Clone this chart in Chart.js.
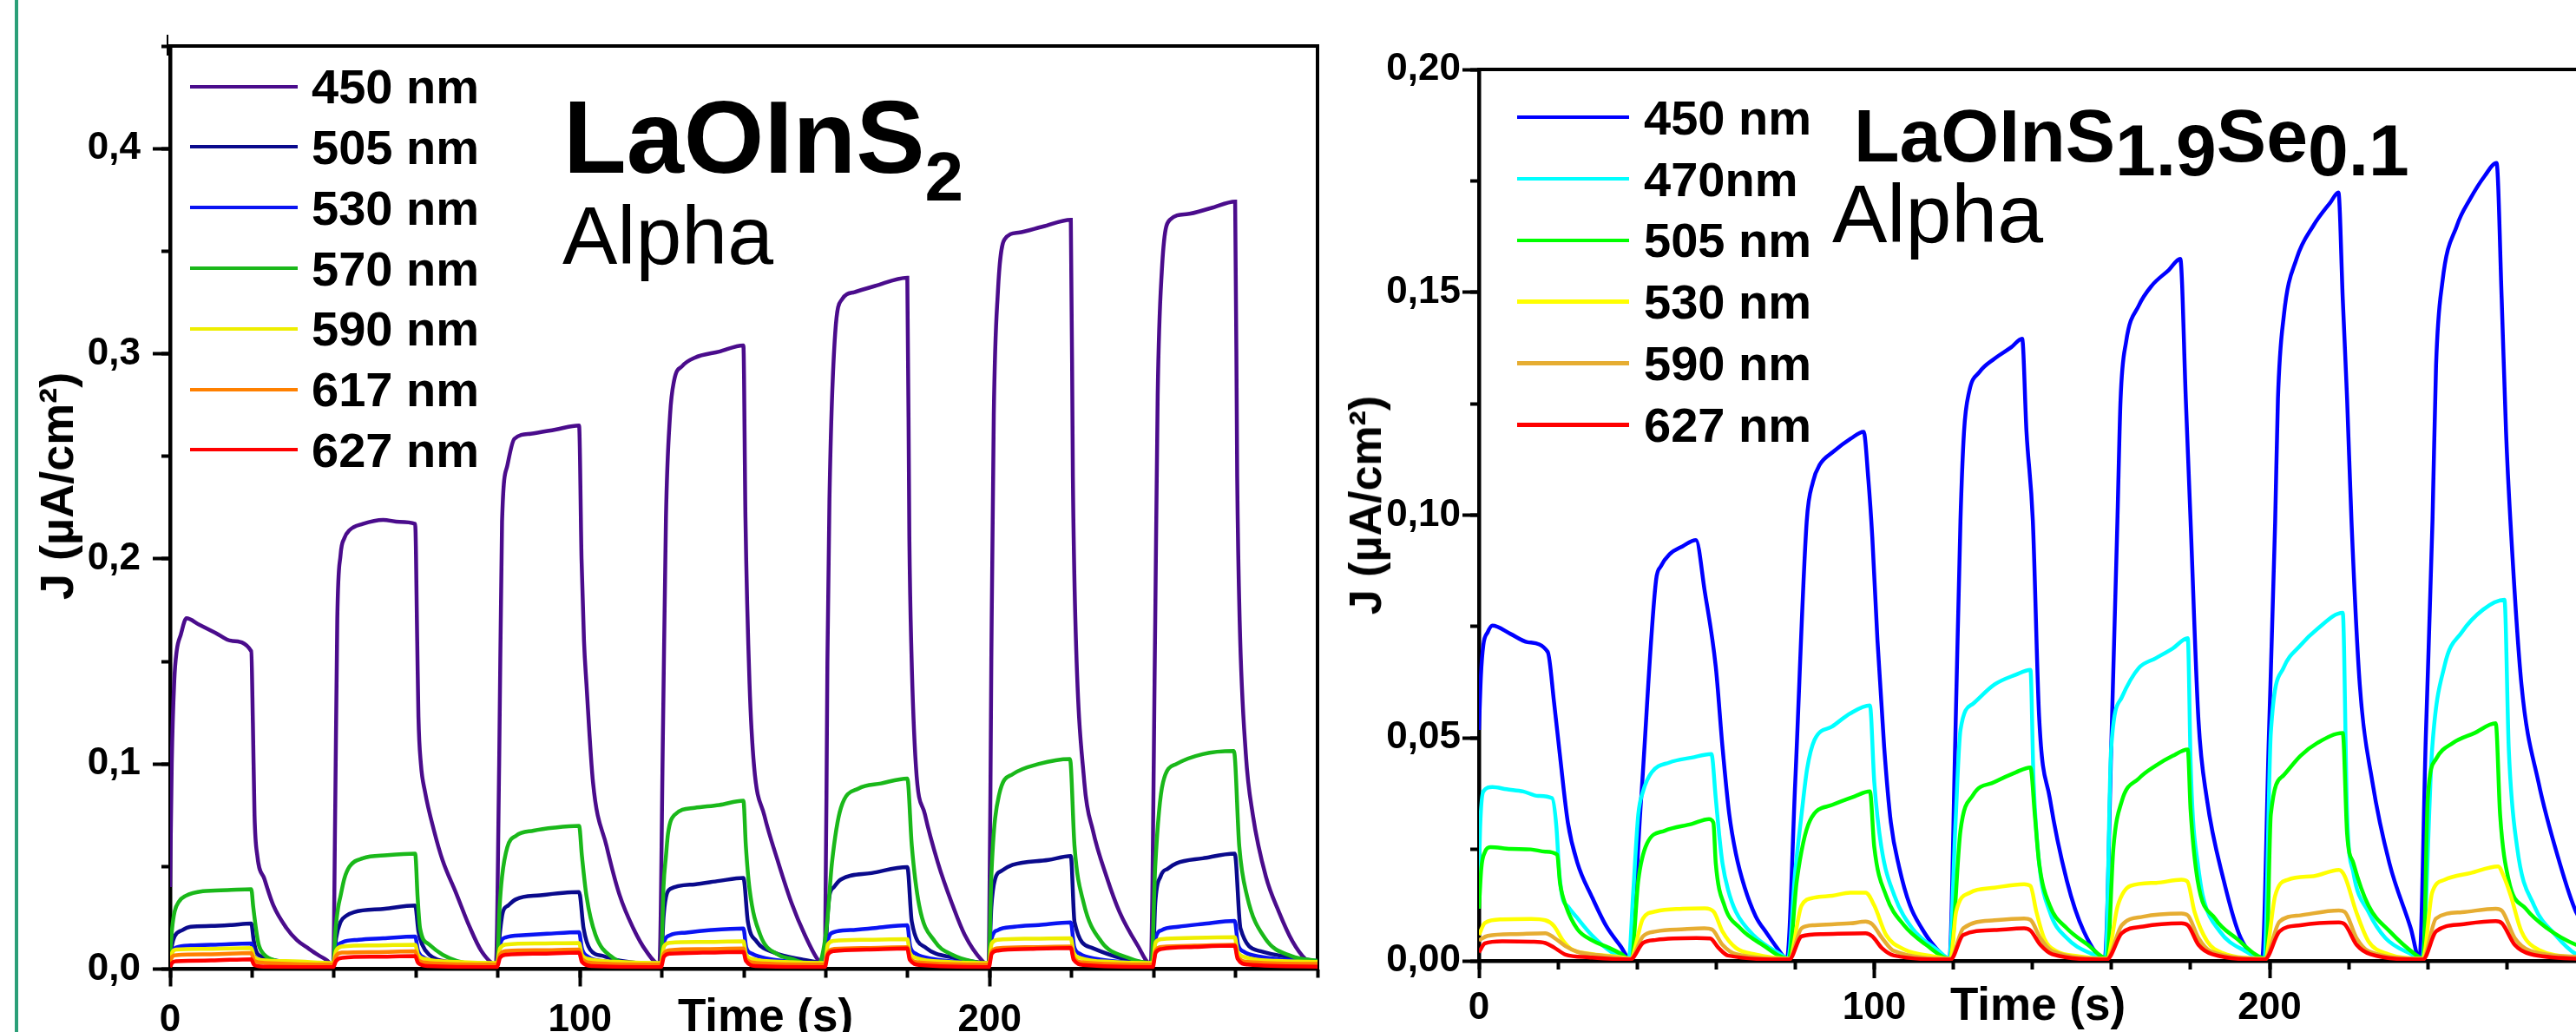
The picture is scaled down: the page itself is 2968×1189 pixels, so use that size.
<!DOCTYPE html>
<html>
<head>
<meta charset="utf-8">
<script src="https://cdn.jsdelivr.net/npm/chart.js@4.4.1/dist/chart.umd.min.js"></script>
<style>
html,body{margin:0;padding:0;background:#fff;width:2968px;height:1189px;overflow:hidden;position:relative;font-family:"Liberation Sans",Arial,sans-serif;}
canvas{position:absolute;top:0;}
.t{position:absolute;white-space:nowrap;line-height:1;color:#000;font-family:"Liberation Sans",Arial,sans-serif;}
.b{font-weight:bold;}
.sub1{font-size:80px;position:relative;top:32px;}
.sub2{font-size:84px;position:relative;top:16px;}
</style>
</head>
<body>
<div style="position:absolute;left:17px;top:0;width:4px;height:1189px;background:#2b9f78"></div>
<div style="position:absolute;left:192px;top:40px;width:2px;height:24px;background:#000"></div>
<canvas id="cL" width="1560" height="1230" style="left:0px"></canvas>
<canvas id="cR" width="1460" height="1230" style="left:1540px"></canvas>

<div class="t b" style="left:649px;top:98px;font-size:119px">LaOInS<span class="sub1">2</span></div>
<div class="t" style="left:648px;top:224px;font-size:95px">Alpha</div>
<div class="t b" style="left:2136px;top:113px;font-size:86px">LaOInS<span class="sub2">1.9</span>Se<span class="sub2">0.1</span></div>
<div class="t" style="left:2111px;top:199px;font-size:95px">Alpha</div>

<div class="t b" style="left:65px;top:560px;font-size:54px;transform:translate(-50%,-50%) rotate(-90deg)">J (µA/cm²)</div>
<div class="t b" style="left:1573px;top:582px;font-size:52px;transform:translate(-50%,-50%) rotate(-90deg)">J (µA/cm²)</div>
<div class="t b" style="left:882px;top:1143px;font-size:53px;transform:translateX(-50%)">Time (s)</div>
<div class="t b" style="left:2348px;top:1130px;font-size:53px;transform:translateX(-50%)">Time (s)</div>

<script>
// ---------- shared axis values ----------
const timeTicks = [0, 100, 200];
const timeTickLabels = ['0', '100', '200'];
const timeMinorTicks = [0, 20, 40, 60, 80, 100, 120, 140, 160, 180, 200, 220, 240, 260, 280];

// ---------- left panel (LaOInS2) ----------
const leftLabels = ['450 nm', '505 nm', '530 nm', '570 nm', '590 nm', '617 nm', '627 nm'];
const leftColors = ['#4a0c8c', '#0a0a8c', '#0a14f2', '#1ab81a', '#eeee00', '#ff8000', '#ff0000'];
const leftYTicks = [0, 0.1, 0.2, 0.3, 0.4];
const leftYTickLabels = ['0,0', '0,1', '0,2', '0,3', '0,4'];
const leftYMinorTicks = [0, 0.05, 0.1, 0.15, 0.2, 0.25, 0.3, 0.35, 0.4, 0.45];

const L450 = [[0,0.040],[0.4,0.10],[1,0.140],[1.6,0.155],[2.6,0.163],[4,0.171],[7,0.168],[11,0.164],[15,0.160],[19.8,0.155],
 [20.2,0.120],[20.6,0.075],[21.3,0.055],[23,0.044],[25.2,0.031],[28.4,0.020],[31,0.014],[33.8,0.010],[36,0.007],[38.1,0.0045],[39.8,0.002],
 [40.3,0.080],[40.8,0.171],[41.6,0.202],[42.5,0.210],[43.8,0.214],[47,0.217],[52,0.219],[56,0.218],[59.8,0.217],
 [60.3,0.160],[60.6,0.123],[61.2,0.100],[62.2,0.0865],[64.4,0.0675],[66.5,0.053],[69.8,0.037],[73,0.021],[76,0.0087],[79.5,0.0024],
 [80.3,0.100],[81,0.218],[82.3,0.2455],[84,0.2585],[88,0.261],[94,0.263],[99.8,0.265],
 [100.4,0.200],[101,0.160],[101.6,0.139],[103.2,0.091],[106.5,0.060],[109.7,0.036],[113,0.020],[116.2,0.0087],[119.4,0.0024],
 [120.3,0.120],[121,0.220],[122,0.270],[123,0.287],[125,0.294],[128,0.298],[134,0.301],[139.9,0.304],
 [140.4,0.220],[141.4,0.139],[142.5,0.099],[145,0.075],[148.4,0.052],[151.6,0.0325],[154.9,0.0166],[158.1,0.0045],[159.8,0.002],
 [160.4,0.150],[160.9,0.229],[162.3,0.310],[164,0.3266],[167,0.330],[172,0.333],[179.9,0.337],
 [180.4,0.210],[180.9,0.155],[182,0.099],[184.2,0.0754],[187.4,0.0516],[190.7,0.0325],[193.9,0.0167],[198.2,0.004],[199.8,0.002],
 [200.4,0.150],[201,0.270],[202,0.330],[203.6,0.3556],[207,0.359],[213,0.362],[219.8,0.3653],
 [220.3,0.240],[220.9,0.171],[223.1,0.091],[225.2,0.0675],[228.5,0.0452],[231.7,0.0278],[236,0.0119],[239.3,0.0024],
 [240.4,0.170],[241,0.280],[242,0.340],[244,0.3653],[248,0.368],[254,0.371],[259.9,0.3742],
 [260.4,0.240],[261,0.170],[262.5,0.105],[264.2,0.0754],[267.4,0.0451],[270.6,0.0278],[273.9,0.0135],[277.1,0.0048],[280,0.002]];

const L505 = [[0,0.004],[0.5,0.012],[1.1,0.016],[3,0.019],[5,0.0206],[10,0.021],[15,0.0215],[19.8,0.0222],
 [20.4,0.014],[21,0.0087],[22.5,0.006],[24.3,0.0048],[30,0.003],[39.8,0.0022],
 [40.5,0.015],[41.6,0.023],[43,0.026],[44.9,0.0278],[52.4,0.0294],[59.8,0.031],
 [60.6,0.0183],[61.5,0.012],[63.2,0.007],[68,0.0035],[79.8,0.0022],
 [80.5,0.018],[81.2,0.0278],[82.5,0.031],[84.4,0.034],[90.3,0.036],[99.8,0.0376],
 [100.9,0.0198],[102.5,0.0095],[105.8,0.0063],[110,0.004],[119.8,0.0025],
 [120.4,0.025],[121,0.035],[122,0.039],[128,0.0413],[134,0.043],[139.9,0.0444],
 [141,0.023],[143.1,0.0135],[147.5,0.008],[154,0.0048],[159.8,0.003],
 [160.4,0.025],[160.9,0.0357],[162,0.040],[163.7,0.0437],[171.2,0.0468],[179.9,0.0497],
 [181,0.023],[184.5,0.0103],[191,0.0056],[199.8,0.003],
 [200.4,0.030],[201.3,0.0437],[203,0.048],[205.6,0.0508],[214.3,0.0532],[219.8,0.0551],
 [220.7,0.023],[225,0.0103],[231.6,0.0056],[239.8,0.003],
 [240.4,0.032],[241.7,0.0452],[243.5,0.049],[245.6,0.0516],[252,0.054],[259.8,0.0563],
 [261.2,0.0198],[266.1,0.0087],[273.7,0.0056],[280,0.004]];

const L530 = [[0,0.003],[0.5,0.008],[1.5,0.0105],[5,0.0115],[12,0.012],[19.8,0.0125],
 [20.4,0.007],[21.5,0.0045],[25,0.0032],[32,0.0025],[39.8,0.002],
 [40.5,0.010],[42,0.013],[46,0.0143],[52,0.015],[59.8,0.0159],
 [60.5,0.009],[62,0.0055],[66,0.0035],[72,0.0025],[79.8,0.002],
 [80.5,0.012],[82,0.0155],[86,0.0165],[92,0.0172],[99.8,0.018],
 [100.5,0.010],[102,0.006],[106,0.0038],[112,0.0028],[119.8,0.0022],
 [120.5,0.013],[122,0.0165],[126,0.0178],[132,0.019],[139.9,0.0198],
 [140.6,0.0105],[142,0.0075],[146,0.005],[152,0.0035],[159.8,0.0025],
 [160.5,0.014],[162,0.018],[166,0.019],[172,0.020],[179.9,0.0214],
 [180.6,0.011],[182,0.0075],[186,0.005],[192,0.0035],[199.8,0.0025],
 [200.5,0.015],[202,0.019],[206,0.0206],[212,0.0215],[219.8,0.0227],
 [220.6,0.011],[222,0.0075],[226,0.005],[232,0.0035],[239.8,0.0025],
 [240.5,0.015],[242,0.019],[246,0.0206],[252,0.022],[259.8,0.0235],
 [260.6,0.012],[262,0.0085],[266,0.006],[272,0.0045],[280,0.0035]];

const L570 = [[0,0.007],[0.5,0.020],[1.1,0.028],[2.2,0.033],[3.8,0.0357],[8,0.038],[14,0.0385],[19.8,0.0389],
 [20.3,0.030],[21,0.019],[21.6,0.012],[23,0.007],[26,0.004],[30,0.003],[39.8,0.0015],
 [40.4,0.020],[41,0.030],[41.6,0.0357],[42.5,0.044],[43.8,0.050],[47,0.054],[53,0.0555],[59.8,0.0563],
 [60.4,0.035],[61,0.0198],[63.2,0.012],[66.5,0.007],[70,0.004],[75,0.002],[79.8,0.0015],
 [80.4,0.030],[81,0.045],[82.3,0.0595],[84.4,0.065],[88.7,0.0675],[94,0.069],[99.8,0.0698],
 [100.5,0.055],[101.6,0.0357],[103.8,0.0167],[108,0.0056],[112.3,0.0024],[119.8,0.0015],
 [120.4,0.040],[121,0.055],[121.5,0.066],[123,0.075],[128,0.0786],[134,0.080],[139.9,0.0821],
 [140.5,0.060],[141.4,0.039],[144,0.0167],[148.4,0.007],[151.6,0.005],[158,0.0015],
 [160.2,0.020],[161.5,0.0516],[163.7,0.0786],[168,0.088],[173.5,0.0905],[179.9,0.0929],
 [181,0.060],[182.8,0.031],[186.6,0.0135],[190.9,0.007],[197.4,0.003],[199.8,0.002],
 [200.4,0.045],[202.3,0.085],[205.6,0.095],[212,0.100],[219.6,0.1024],
 [220.7,0.060],[222.9,0.0325],[227.2,0.0135],[233.7,0.0056],[239.5,0.003],
 [240.4,0.050],[242.3,0.091],[245.6,0.100],[252,0.1048],[259.6,0.1063],
 [260.9,0.060],[262.8,0.0357],[267.2,0.015],[273.7,0.0063],[280,0.004]];

const L590 = [[0,0.004],[0.5,0.008],[1.5,0.0095],[8,0.0098],[19.8,0.0103],
 [20.5,0.006],[22,0.0045],[30,0.0038],[39.8,0.003],
 [40.5,0.009],[42,0.011],[50,0.0115],[59.8,0.0119],
 [60.5,0.007],[62,0.005],[70,0.0035],[79.8,0.003],
 [80.5,0.010],[82,0.012],[90,0.0125],[99.8,0.0127],
 [100.5,0.007],[102,0.005],[110,0.0035],[119.8,0.003],
 [120.5,0.011],[122,0.0128],[130,0.0132],[139.9,0.0135],
 [140.5,0.0075],[142,0.005],[150,0.0035],[159.8,0.003],
 [160.5,0.012],[162,0.0138],[170,0.0143],[179.9,0.0146],
 [180.5,0.008],[182,0.0055],[190,0.0035],[199.8,0.003],
 [200.5,0.0125],[202,0.0143],[210,0.0148],[219.8,0.015],
 [220.5,0.008],[222,0.0055],[230,0.0035],[239.8,0.003],
 [240.5,0.013],[242,0.0146],[250,0.0152],[259.8,0.0155],
 [260.5,0.0085],[262,0.006],[270,0.004],[280,0.0035]];

const L617 = [[0,0.003],[0.5,0.006],[1.5,0.0068],[10,0.0072],[19.8,0.0078],
 [20.5,0.004],[23,0.003],[39.8,0.0022],
 [40.5,0.0065],[42,0.008],[50,0.0083],[59.8,0.0087],
 [60.5,0.0045],[63,0.003],[79.8,0.0022],
 [80.5,0.007],[82,0.0088],[90,0.0092],[99.8,0.0095],
 [100.5,0.005],[103,0.003],[119.8,0.0022],
 [120.5,0.0075],[122,0.0092],[130,0.0097],[139.9,0.010],
 [140.5,0.005],[143,0.003],[159.8,0.0022],
 [160.5,0.008],[162,0.0098],[170,0.0103],[179.9,0.0107],
 [180.5,0.0055],[183,0.0032],[199.8,0.0022],
 [200.5,0.0085],[202,0.0102],[210,0.0107],[219.8,0.011],
 [220.5,0.0055],[223,0.0032],[239.8,0.0022],
 [240.5,0.009],[242,0.0108],[250,0.0114],[259.8,0.0119],
 [260.5,0.006],[263,0.0035],[280,0.0025]];

const L627 = [[0,0.001],[0.5,0.003],[1.5,0.0038],[10,0.0042],[19.8,0.0048],
 [20.5,0.002],[23,0.0012],[39.8,0.001],
 [40.5,0.004],[42,0.0055],[50,0.006],[59.8,0.0063],
 [60.5,0.003],[63,0.0015],[79.8,0.001],
 [80.5,0.0055],[82,0.007],[90,0.0075],[99.8,0.008],
 [100.5,0.0035],[103,0.0015],[119.8,0.001],
 [120.5,0.006],[122,0.0075],[130,0.008],[139.9,0.0084],
 [140.5,0.004],[143,0.0015],[159.8,0.001],
 [160.5,0.007],[162,0.0088],[170,0.0095],[179.9,0.010],
 [180.5,0.0045],[183,0.002],[199.8,0.001],
 [200.5,0.0075],[202,0.009],[210,0.0098],[219.8,0.0103],
 [220.5,0.0045],[223,0.002],[239.8,0.001],
 [240.5,0.008],[242,0.0098],[250,0.0108],[259.8,0.0114],
 [260.5,0.005],[263,0.0022],[280,0.0012]];

// ---------- right panel (LaOInS1.9Se0.1) ----------
const rightLabels = ['450 nm', '470nm', '505 nm', '530 nm', '590 nm', '627 nm'];
const rightColors = ['#0000ff', '#00ffff', '#00ff00', '#ffff00', '#e6ad32', '#ff0000'];
const rightYTicks = [0, 0.05, 0.1, 0.15, 0.2];
const rightYTickLabels = ['0,00', '0,05', '0,10', '0,15', '0,20'];
const rightYMinorTicks = [0, 0.025, 0.05, 0.075, 0.1, 0.125, 0.15, 0.175, 0.2];

const R450 = [[0,0.0518],[0.5,0.064],[1.1,0.0708],[2.2,0.0737],[3.4,0.0752],[7.9,0.0734],[12.3,0.0715],[17.4,0.0693],
 [19,0.058],[20.5,0.046],[22.5,0.031],[24.9,0.022],[28.6,0.0143],[32.2,0.0078],[35.9,0.0032],[38.1,0.0005],
 [41,0.036],[44.8,0.0854],[46,0.0885],[48.2,0.0912],[51.5,0.093],[54.9,0.0944],
 [57.1,0.083],[59.9,0.066],[61.6,0.048],[63.3,0.033],[65,0.024],[67.2,0.0165],[70,0.010],[72.8,0.0062],[75.5,0.0028],[77.9,0.0005],
 [80,0.04],[82.9,0.0985],[84.5,0.1075],[86.2,0.1113],[89.6,0.1142],[94.1,0.1172],[97.3,0.1187],
 [98.5,0.108],[99.5,0.095],[100.8,0.072],[102.5,0.048],[104.2,0.031],[106.3,0.021],[109,0.0125],[112,0.0073],[115,0.0035],[119,0.0005],
 [120.5,0.05],[121.8,0.0988],[122.7,0.1187],[124,0.1277],[126.6,0.1321],[130.4,0.1351],[134.7,0.1377],[137.4,0.1396],
 [138.5,0.1187],[140.1,0.0988],[141.7,0.0547],[144.4,0.0365],[148.7,0.018],[153,0.0066],[158.3,0.0005],
 [160,0.05],[161.5,0.0988],[162.3,0.126],[163.7,0.1389],[166.9,0.147],[170.2,0.1515],[174.5,0.155],[177.4,0.1575],
 [178.8,0.126],[180,0.0988],[182,0.054],[184.1,0.0365],[188.4,0.018],[192.7,0.0051],[198.1,0.0005],
 [199.8,0.05],[201.4,0.0985],[202.1,0.126],[203.6,0.1448],[206.8,0.1575],[211.1,0.165],[215.4,0.1702],[217.4,0.1724],
 [218.5,0.1485],[219.6,0.126],[220.7,0.0988],[222.8,0.062],[226,0.0401],[230.3,0.0219],[235.7,0.0073],[237.9,0.0005],
 [239.5,0.05],[241.2,0.0988],[242.1,0.1336],[243.7,0.1523],[247.4,0.165],[250.7,0.1709],[254.4,0.1761],[257.4,0.179],
 [258.7,0.1485],[259.8,0.1187],[260.9,0.0988],[263.7,0.062],[268,0.0401],[273.4,0.0219],[277.5,0.011],[280,0.0075]];

const R470 = [[0,0.0195],[0.3,0.03],[1.1,0.038],[3.4,0.039],[7,0.0385],[11.2,0.038],[15,0.037],[18.5,0.0365],
 [19.6,0.03],[20.3,0.02],[21.1,0.0143],[22.5,0.0122],[24.7,0.0098],[28.4,0.0059],[33.5,0.002],[37.9,0.0005],
 [39,0.015],[40.3,0.0328],[41.5,0.038],[43.7,0.0423],[48.2,0.0445],[53.8,0.0456],[58.8,0.0464],
 [59.9,0.0365],[60.8,0.028],[61.6,0.0219],[63,0.016],[65,0.011],[69.4,0.0058],[76.2,0.0015],[78.2,0.0005],
 [80,0.02],[81.6,0.0328],[83,0.043],[84.9,0.0496],[89.4,0.0526],[93.9,0.0555],[98.9,0.0573],
 [100,0.0401],[101.8,0.0255],[105.1,0.0146],[109.6,0.0073],[116.3,0.0022],[119,0.0005],
 [120.5,0.03],[121.8,0.0518],[125,0.0577],[130.4,0.062],[135.8,0.0642],[139.5,0.0653],
 [140.3,0.0401],[141.7,0.0219],[144.4,0.011],[148.7,0.0051],[155.1,0.0015],[158.5,0.0005],
 [159.9,0.0474],[162.6,0.0591],[166.9,0.0657],[171.2,0.0679],[175.5,0.0701],[179.3,0.0724],
 [180,0.045],[180.6,0.032],[181.8,0.022],[183.1,0.0146],[187.4,0.0066],[193.8,0.0022],[198.7,0.0005],
 [200.3,0.0511],[203.5,0.0657],[207.8,0.0708],[212.1,0.0745],[218.5,0.0781],
 [219.6,0.0328],[221.2,0.0197],[225,0.011],[229.3,0.0051],[235.8,0.0015],[238.6,0.0005],
 [241.1,0.0474],[244.3,0.0664],[248.6,0.0737],[254,0.0788],[259.4,0.081],
 [260.5,0.0474],[262.6,0.0255],[266.9,0.0124],[272.3,0.0058],[277.5,0.0015],[280,0.001]];

const R505 = [[0,0.0117],[0.6,0.0208],[1.5,0.0244],[2.9,0.0255],[8,0.0251],[13.1,0.025],[16.8,0.0245],[19.8,0.0238],
 [20.5,0.0175],[22,0.0123],[24.9,0.0071],[28.6,0.0046],[32.2,0.0032],[35.9,0.0016],[37.9,0.0005],
 [38.6,0.0006],[40.3,0.018],[42.5,0.0263],[47,0.0292],[53.8,0.0307],[58.2,0.0318],[59.3,0.031],
 [59.9,0.0219],[62.1,0.0124],[66.1,0.0073],[71.7,0.0036],[78.4,0.0005],
 [80.4,0.018],[83.7,0.0314],[89.4,0.035],[95,0.0369],[98.9,0.038],
 [100,0.0255],[103,0.0146],[107.5,0.008],[113.1,0.0036],[119.2,0.0005],
 [121.8,0.0292],[125,0.0372],[130.4,0.0401],[135.8,0.0423],[139.5,0.0434],
 [140.6,0.0328],[141.7,0.0219],[144.4,0.0124],[148.7,0.0073],[154,0.0036],[158.9,0.0005],
 [160.5,0.0255],[162.6,0.0358],[166.9,0.0409],[171.2,0.0438],[175.5,0.046],[179.3,0.0474],
 [180,0.034],[181.8,0.018],[186.2,0.0095],[191.5,0.0051],[199.2,0.0005],
 [200.3,0.0328],[203.5,0.0416],[207.8,0.046],[212.1,0.0489],[218.5,0.0511],
 [219.6,0.0285],[221.2,0.0219],[225,0.0124],[230.4,0.0066],[236.8,0.0015],[238.9,0.0005],
 [240,0.0365],[242.1,0.0453],[246.4,0.0489],[251.8,0.0511],[257.2,0.0533],
 [258.3,0.0328],[260.5,0.018],[264.8,0.0117],[270.2,0.0073],[277.5,0.0036],[280,0.003]];

const R530 = [[0,0.0058],[1.5,0.0085],[5.9,0.0093],[13.2,0.0094],[16.8,0.0091],[19,0.0078],[21.2,0.0046],[23.4,0.0026],[27.8,0.0016],[35.2,0.0009],[38.3,0.0005],
 [41.5,0.0095],[44.8,0.0111],[51.5,0.0117],[57.1,0.0118],[59.4,0.011],[61.6,0.0066],[65,0.0029],[70,0.0014],[78.5,0.0005],
 [81.6,0.0124],[84.9,0.0142],[89.4,0.0146],[93.9,0.0153],[97.8,0.0153],[100,0.0124],[103,0.0058],[107.5,0.0026],[115,0.001],[119.3,0.0005],
 [120.7,0.011],[124.2,0.0153],[130.4,0.0164],[137.9,0.0172],[139.5,0.0168],[141,0.011],[143,0.005],[146,0.0022],[152,0.001],[158.8,0.0005],
 [161.6,0.0124],[164.8,0.0168],[171.3,0.0175],[177.7,0.0182],[179.2,0.0178],[181,0.011],[184.2,0.0044],[188,0.0018],[198.8,0.0005],
 [201.4,0.0146],[204.6,0.0182],[211.1,0.019],[217.5,0.0204],[219,0.019],[221.9,0.011],[225,0.0044],[230,0.0015],[238.8,0.0005],
 [241.1,0.0153],[244.3,0.0182],[250.8,0.0197],[257.8,0.0212],[259.2,0.019],[261,0.0146],[263.7,0.0066],[268,0.0025],[280,0.0006]];

const R590 = [[0,0.0046],[2.2,0.0056],[9.5,0.006],[16.8,0.0062],[19,0.0052],[21.9,0.0033],[25,0.002],[30,0.0013],[38.3,0.0005],
 [41.5,0.0055],[44.8,0.0066],[52,0.0071],[57,0.0073],[59,0.007],[61.6,0.0036],[65,0.0015],[78.5,0.0005],
 [81.6,0.0073],[84.9,0.008],[93.9,0.0084],[97.8,0.0088],[99.5,0.0082],[102,0.0051],[105,0.0022],[119.3,0.0005],
 [122.5,0.0073],[130.4,0.0091],[137.9,0.0095],[139.5,0.0092],[142,0.0051],[145,0.0022],[158.8,0.0005],
 [162.6,0.008],[168,0.0099],[177.7,0.0106],[179.3,0.0102],[182,0.0051],[185,0.0022],[198.8,0.0005],
 [202.5,0.0088],[207.8,0.0102],[217.5,0.0113],[219,0.011],[222,0.0051],[225,0.0022],[238.8,0.0005],
 [242.1,0.0095],[248.6,0.0109],[257.2,0.0117],[258.8,0.0112],[262,0.0051],[266,0.0022],[280,0.0008]];

const R627 = [[0,0.0019],[1.5,0.0039],[5.9,0.0044],[13.2,0.0043],[16.8,0.004],[19,0.003],[21.9,0.0014],[27.8,0.0008],[38.3,0.0003],
 [41.5,0.004],[44.8,0.0047],[55,0.0051],[58.5,0.005],[60.5,0.003],[63,0.0012],[78.5,0.0003],
 [81.6,0.0055],[87,0.006],[97.8,0.0062],[99.5,0.0055],[102,0.0028],[105,0.0012],[119.3,0.0003],
 [122.5,0.0058],[130.4,0.0069],[137.9,0.0073],[139.5,0.0068],[142,0.0036],[145,0.0015],[158.8,0.0003],
 [162.6,0.0062],[168,0.0077],[177.7,0.0084],[179.3,0.008],[182,0.0036],[185.5,0.0015],[198.8,0.0003],
 [202.5,0.0066],[207.8,0.008],[217.5,0.0086],[219,0.0082],[222,0.0036],[225.5,0.0015],[238.8,0.0003],
 [242.1,0.0066],[248.6,0.0082],[257.2,0.0089],[258.8,0.0084],[262,0.0036],[266,0.0015],[280,0.0004]];

const leftSeries = [L450, L505, L530, L570, L590, L617, L627];
const rightSeries = [R450, R470, R505, R530, R590, R627];

// ---------- chart construction ----------
Chart.defaults.font.family = '"Liberation Sans", Arial, sans-serif';
Chart.defaults.color = '#000';

function setTicks(arr) { return (s) => { s.ticks = arr.map(v => ({ value: v })); }; }

function buildPanel(o) {
  const n = o.series.length;
  const datasets = o.series.map((s, i) => ({
    label: o.labels[i],
    data: s.map(p => ({ x: p[0], y: p[1] })),
    borderColor: o.colors[i],
    backgroundColor: o.colors[i],
    borderWidth: o.lineWidth,
    pointRadius: 0,
    fill: false,
    cubicInterpolationMode: 'monotone',
    order: n - i,
    xAxisID: 'x', yAxisID: 'y'
  }));
  const tickFont = { size: 44, weight: 'bold' };
  const scales = {
    x: {
      type: 'linear', position: 'bottom', min: 0, max: 280, weight: 1,
      afterBuildTicks: setTicks(timeTicks),
      afterFit: s => { s.height = o.canvasH - o.bottom; },
      ticks: { autoSkip: false, maxRotation: 0, padding: o.xPad, font: tickFont, color: '#000',
               callback: (v, i) => timeTickLabels[i] },
      grid: { display: true, drawOnChartArea: false, drawTicks: true, tickLength: 20, tickWidth: 4, tickColor: '#000' },
      border: { display: true, width: 4.5, color: '#000' }
    },
    xMinor: {
      type: 'linear', position: 'bottom', min: 0, max: 280, weight: 0,
      afterBuildTicks: setTicks(timeMinorTicks),
      afterFit: s => { s.height = 0; },
      ticks: { display: false },
      grid: { display: true, drawOnChartArea: false, drawTicks: true, tickLength: 10, tickWidth: 4, tickColor: '#000' },
      border: { display: false }
    },
    xTop: {
      type: 'linear', position: 'top', min: 0, max: 280,
      afterFit: s => { s.height = 0; },
      ticks: { display: false },
      grid: { display: false, drawTicks: false },
      border: { display: true, width: 4, color: '#000' }
    },
    y: {
      type: 'linear', position: 'left', min: 0, max: o.yMax, weight: 1,
      afterBuildTicks: setTicks(o.yTicks),
      afterFit: s => { s.width = o.left; },
      ticks: { autoSkip: false, padding: o.yPad, font: tickFont, color: '#000',
               callback: (v, i) => o.yTickLabels[i] },
      grid: { display: true, drawOnChartArea: false, drawTicks: true, tickLength: o.yTickLen, tickWidth: 4, tickColor: '#000' },
      border: { display: true, width: 4.5, color: '#000' }
    },
    yMinor: {
      type: 'linear', position: 'left', min: 0, max: o.yMax, weight: 0,
      afterBuildTicks: setTicks(o.yMinor),
      afterFit: s => { s.width = 0; },
      ticks: { display: false },
      grid: { display: true, drawOnChartArea: false, drawTicks: true, tickLength: 10, tickWidth: 4, tickColor: '#000' },
      border: { display: false }
    }
  };
  if (o.rightBorder) {
    scales.yRight = {
      type: 'linear', position: 'right', min: 0, max: o.yMax,
      afterFit: s => { s.width = 0; },
      ticks: { display: false },
      grid: { display: false, drawTicks: false },
      border: { display: true, width: 4, color: '#000' }
    };
  }
  return new Chart(document.getElementById(o.canvas), {
    type: 'line',
    data: { datasets },
    options: {
      responsive: false, animation: false, devicePixelRatio: 1,
      layout: { padding: { left: 0, top: o.top, right: o.canvasW - o.right, bottom: 0 } },
      plugins: { legend: { display: false }, tooltip: { enabled: false } },
      scales
    }
  });
}

buildPanel({
  canvas: 'cL', canvasW: 1560, canvasH: 1230,
  left: 196, right: 1518, top: 53, bottom: 1116.5,
  series: leftSeries, labels: leftLabels, colors: leftColors, lineWidth: 4.5,
  yMax: 0.45, yTicks: leftYTicks, yTickLabels: leftYTickLabels, yMinor: leftYMinorTicks,
  yPad: 14, xPad: 13, yTickLen: 20, rightBorder: true
});

buildPanel({
  canvas: 'cR', canvasW: 1460, canvasH: 1230,
  left: 164, right: 1439.4, top: 80, bottom: 1107,
  series: rightSeries, labels: rightLabels, colors: rightColors, lineWidth: 4.5,
  yMax: 0.2, yTicks: rightYTicks, yTickLabels: rightYTickLabels, yMinor: rightYMinorTicks,
  yPad: 2, xPad: 8, yTickLen: 19, rightBorder: false
});

// ---------- legends (HTML, built from the label/colour arrays) ----------
function legend(labels, colors, lineX, lineW, lineH, textX, y0, step) {
  labels.forEach((lab, i) => {
    const cy = y0 + step * i;
    const ln = document.createElement('div');
    ln.style.cssText = `position:absolute;left:${lineX}px;top:${cy - lineH / 2}px;width:${lineW}px;height:${lineH}px;background:${colors[i]}`;
    document.body.appendChild(ln);
    const tx = document.createElement('div');
    tx.className = 't b';
    tx.style.cssText += `left:${textX}px;top:${cy - 27.4}px;font-size:56px;`;
    tx.textContent = lab;
    document.body.appendChild(tx);
  });
}
legend(leftLabels, leftColors, 219, 124, 4, 359, 99.5, 69.83);
legend(rightLabels, rightColors, 1748, 129, 4.5, 1894, 135, 70.9);
</script>
</body>
</html>
